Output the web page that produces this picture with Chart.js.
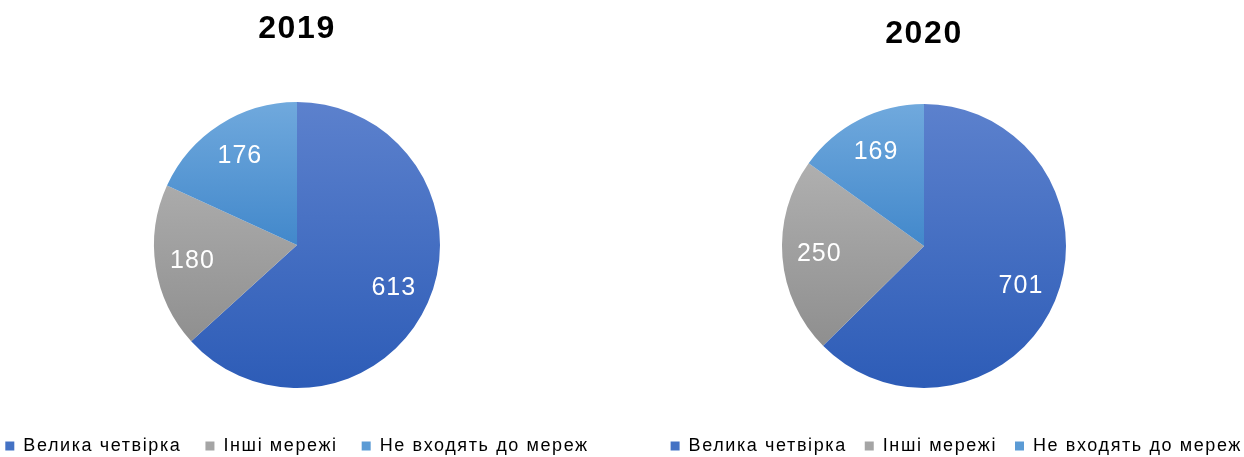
<!DOCTYPE html>
<html>
<head>
<meta charset="utf-8">
<script src="https://cdn.jsdelivr.net/npm/chart.js@4.4.0/dist/chart.umd.min.js"></script>
<style>
    html, body { margin: 0; padding: 0; background: #ffffff; overflow: hidden; }
    body { width: 1244px; height: 457px; position: relative; }
    .box { position: absolute; top: 0; height: 465px; }
    #box2019 { left: -30px; width: 654px; }
    #box2020 { left: 588px; width: 672px; }
</style>
</head>
<body>
<div class="box" id="box2019"><canvas id="chart2019"></canvas></div>
<div class="box" id="box2020"><canvas id="chart2020"></canvas></div>
<script>
// Categories and values
const categories = ["Велика четвірка", "Інші мережі", "Не входять до мереж"];
const values2019 = [613, 180, 176];
const values2020 = [701, 250, 169];
const years = ["2019", "2020"];

// Gradient stops (top, bottom of the pie) per category
const sliceColors = [
    ["#5C81CD", "#2D5CB7"],
    ["#BABABA", "#878787"],
    ["#70A9DD", "#1467B9"]
];
const legendColors = ["#4472C4", "#A5A5A5", "#5B9BD5"];

const FONT = '"Liberation Sans", Arial, sans-serif';
const TEXT_SPACING = "1.6px";

/**
 * @brief Returns a scriptable fill: a vertical gradient over the whole pie.
 */
function sliceFill(radius) {
    return function (context) {
        const i = context.dataIndex;
        const chart = context.chart;
        const area = chart.chartArea;
        if (!area) {
            return legendColors[i];
        }
        const cy = (area.top + area.bottom) / 2;
        const g = chart.ctx.createLinearGradient(0, cy - radius, 0, cy + radius);
        g.addColorStop(0, sliceColors[i][0]);
        g.addColorStop(1, sliceColors[i][1]);
        return g;
    };
}

// Wider letter spacing for the title and legend texts
const textSpacing = {
    id: "textSpacing",
    beforeLayout(chart) {
        chart.ctx.letterSpacing = TEXT_SPACING;
    },
    beforeDraw(chart) {
        chart.ctx.letterSpacing = TEXT_SPACING;
    },
    beforeDatasetsDraw(chart) {
        chart.ctx.letterSpacing = "0px";
    }
};

// Draws the value of each slice in white inside the slice
const sliceLabels = {
    id: "sliceLabels",
    afterDatasetsDraw(chart) {
        const ctx = chart.ctx;
        const meta = chart.getDatasetMeta(0);
        const data = chart.data.datasets[0].data;
        ctx.save();
        ctx.letterSpacing = "1px";
        ctx.font = "25px " + FONT;
        ctx.fillStyle = "#ffffff";
        ctx.textAlign = "center";
        ctx.textBaseline = "middle";
        meta.data.forEach((arc, i) => {
            const p = arc.getProps(["x", "y", "startAngle", "endAngle", "outerRadius"], true);
            const mid = (p.startAngle + p.endAngle) / 2;
            const r = p.outerRadius * 0.74;
            ctx.fillText(String(data[i]), p.x + Math.cos(mid) * r, p.y + Math.sin(mid) * r);
        });
        ctx.restore();
    }
};

function makePie(canvasId, year, values, radius, legendAlign, legendGap, titlePadding) {
    const ctx = document.getElementById(canvasId).getContext("2d");
    return new Chart(ctx, {
        type: "pie",
        data: {
            labels: categories,
            datasets: [{
                data: values,
                backgroundColor: sliceFill(radius),
                borderWidth: 0,
                radius: radius
            }]
        },
        options: {
            animation: false,
            responsive: true,
            maintainAspectRatio: false,
            layout: { padding: 0 },
            plugins: {
                title: {
                    display: true,
                    text: year,
                    color: "#000000",
                    font: { family: FONT, size: 32, weight: "bold" },
                    padding: titlePadding
                },
                legend: {
                    position: "bottom",
                    align: legendAlign,
                    labels: {
                        color: "#000000",
                        font: { family: FONT, size: 18 },
                        boxWidth: 9,
                        boxHeight: 9,
                        padding: legendGap,
                        generateLabels(chart) {
                            return categories.map((c, i) => ({
                                text: c,
                                fillStyle: legendColors[i],
                                strokeStyle: legendColors[i],
                                lineWidth: 0,
                                index: i
                            }));
                        }
                    }
                },
                tooltip: { enabled: false }
            }
        },
        plugins: [textSpacing, sliceLabels]
    });
}

window.onload = function () {
    Promise.all([
        document.fonts.load('18px "Liberation Sans"'),
        document.fonts.load('bold 32px "Liberation Sans"')
    ]).catch(() => null).then(() => {
        makePie("chart2019", years[0], values2019, 143, "center", 24, { top: 10, bottom: 28.6 });
        makePie("chart2020", years[1], values2020, 142, "end", 18, { top: 14.5, bottom: 20.1 });
    });
};
</script>
</body>
</html>
